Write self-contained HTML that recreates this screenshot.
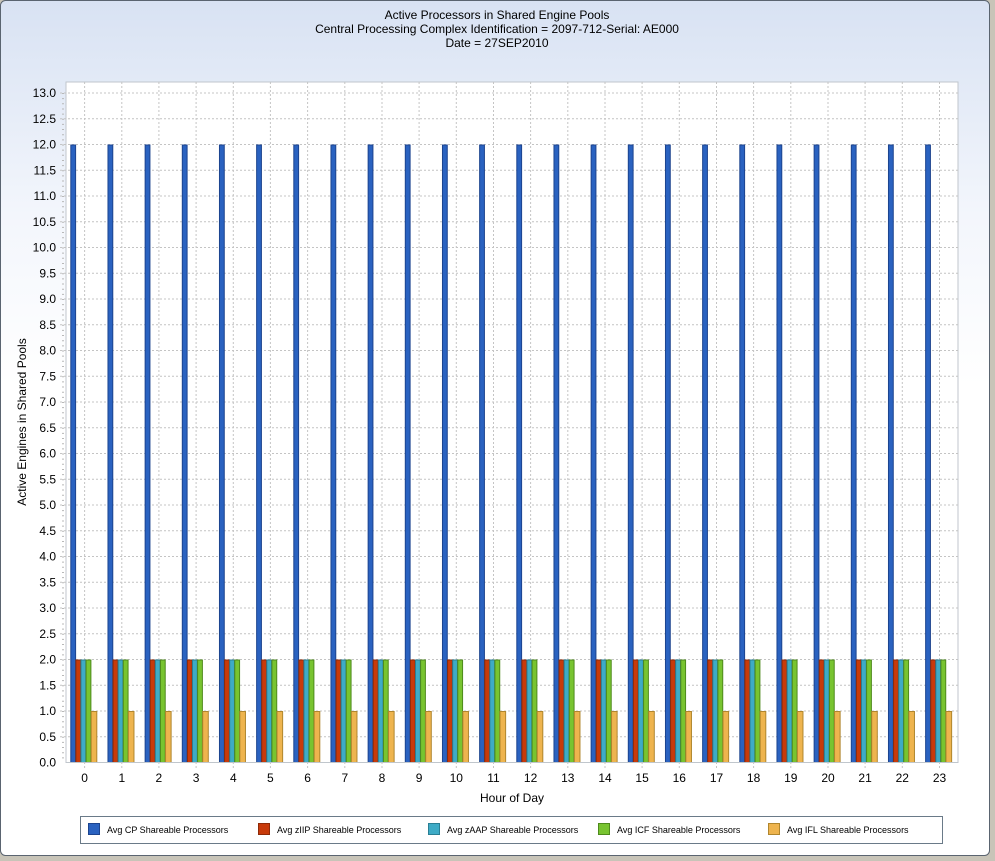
<!DOCTYPE html>
<html><head><style>body{margin:0;background:#fff}svg{display:block}text{font-family:"Liberation Sans",sans-serif;fill:#000}</style></head><body>
<svg width="995" height="861" xmlns="http://www.w3.org/2000/svg" xmlns:xlink="http://www.w3.org/1999/xlink">
<defs>
<linearGradient id="bg" x1="0" y1="0" x2="0" y2="1"><stop offset="0" stop-color="#d8e2f3"/><stop offset="0.25" stop-color="#f3f6fc"/><stop offset="0.45" stop-color="#ffffff"/></linearGradient>
<g id="bars">
<rect x="70.8" y="145" width="4.8" height="617.5" fill="#2a62c0" stroke="#1c448f" stroke-width="1"/>
<rect x="75.9" y="660" width="4.8" height="102.5" fill="#c83a0a" stroke="#8e2a08" stroke-width="1"/>
<rect x="81" y="660" width="4.8" height="102.5" fill="#3eabc6" stroke="#2a7f94" stroke-width="1"/>
<rect x="86.1" y="660" width="4.8" height="102.5" fill="#78c430" stroke="#4e8a1c" stroke-width="1"/>
<rect x="91.2" y="711.5" width="5.6" height="51" fill="#eeb44e" stroke="#b0862e" stroke-width="1"/>
</g>
</defs>
<rect x="0" y="0" width="995" height="861" fill="#c8c4b8"/>
<rect x="0.5" y="0.5" width="989" height="855" rx="5" fill="url(#bg)" stroke="#5a6470"/>
<text x="497" y="19" font-size="12" text-anchor="middle">Active Processors in Shared Engine Pools</text>
<text x="497" y="33" font-size="12" text-anchor="middle">Central Processing Complex Identification = 2097-712-Serial: AE000</text>
<text x="497" y="47" font-size="12" text-anchor="middle">Date = 27SEP2010</text>
<rect x="66" y="82" width="892" height="680.5" fill="#fff" stroke="#c0c6cc"/>
<g stroke="#c4c4c4" stroke-dasharray="2 2" stroke-width="1">
<path d="M60 736.75H958M60 711H958M60 685.25H958M60 659.5H958M60 633.75H958M60 608H958M60 582.25H958M60 556.5H958M60 530.75H958M60 505H958M60 479.25H958M60 453.5H958M60 427.75H958M60 402H958M60 376.25H958M60 350.5H958M60 324.75H958M60 299H958M60 273.25H958M60 247.5H958M60 221.75H958M60 196H958M60 170.25H958M60 144.5H958M60 118.75H958M60 93H958"/>
<path d="M84.6 82V768M121.8 82V768M158.9 82V768M196.1 82V768M233.3 82V768M270.4 82V768M307.6 82V768M344.8 82V768M382 82V768M419.1 82V768M456.3 82V768M493.5 82V768M530.6 82V768M567.8 82V768M605 82V768M642.1 82V768M679.3 82V768M716.5 82V768M753.6 82V768M790.8 82V768M828 82V768M865.1 82V768M902.3 82V768M939.5 82V768"/>
</g>
<line x1="63" y1="93" x2="63" y2="762.5" stroke="#b8b8b8" stroke-width="2" stroke-dasharray="1 4.15"/>
<g>
<use xlink:href="#bars"/>
<use xlink:href="#bars" x="37.17"/><use xlink:href="#bars" x="74.33"/><use xlink:href="#bars" x="111.5"/><use xlink:href="#bars" x="148.67"/><use xlink:href="#bars" x="185.83"/><use xlink:href="#bars" x="223"/><use xlink:href="#bars" x="260.17"/><use xlink:href="#bars" x="297.33"/><use xlink:href="#bars" x="334.5"/><use xlink:href="#bars" x="371.67"/><use xlink:href="#bars" x="408.83"/><use xlink:href="#bars" x="446"/><use xlink:href="#bars" x="483.17"/><use xlink:href="#bars" x="520.33"/><use xlink:href="#bars" x="557.5"/><use xlink:href="#bars" x="594.67"/><use xlink:href="#bars" x="631.83"/><use xlink:href="#bars" x="669"/><use xlink:href="#bars" x="706.17"/><use xlink:href="#bars" x="743.33"/><use xlink:href="#bars" x="780.5"/><use xlink:href="#bars" x="817.67"/><use xlink:href="#bars" x="854.83"/>
</g>
<line x1="66" y1="762.5" x2="958" y2="762.5" stroke="#c0c6cc"/>
<g font-size="12" text-anchor="end">
<text x="56" y="766.5">0.0</text><text x="56" y="740.75">0.5</text><text x="56" y="715">1.0</text><text x="56" y="689.25">1.5</text><text x="56" y="663.5">2.0</text><text x="56" y="637.75">2.5</text><text x="56" y="612">3.0</text><text x="56" y="586.25">3.5</text><text x="56" y="560.5">4.0</text><text x="56" y="534.75">4.5</text><text x="56" y="509">5.0</text><text x="56" y="483.25">5.5</text><text x="56" y="457.5">6.0</text><text x="56" y="431.75">6.5</text><text x="56" y="406">7.0</text><text x="56" y="380.25">7.5</text><text x="56" y="354.5">8.0</text><text x="56" y="328.75">8.5</text><text x="56" y="303">9.0</text><text x="56" y="277.25">9.5</text><text x="56" y="251.5">10.0</text><text x="56" y="225.75">10.5</text><text x="56" y="200">11.0</text><text x="56" y="174.25">11.5</text><text x="56" y="148.5">12.0</text><text x="56" y="122.75">12.5</text><text x="56" y="97">13.0</text>
</g>
<g font-size="12" text-anchor="middle">
<text x="84.6" y="782">0</text><text x="121.8" y="782">1</text><text x="158.9" y="782">2</text><text x="196.1" y="782">3</text><text x="233.3" y="782">4</text><text x="270.4" y="782">5</text><text x="307.6" y="782">6</text><text x="344.8" y="782">7</text><text x="382" y="782">8</text><text x="419.1" y="782">9</text><text x="456.3" y="782">10</text><text x="493.5" y="782">11</text><text x="530.6" y="782">12</text><text x="567.8" y="782">13</text><text x="605" y="782">14</text><text x="642.1" y="782">15</text><text x="679.3" y="782">16</text><text x="716.5" y="782">17</text><text x="753.6" y="782">18</text><text x="790.8" y="782">19</text><text x="828" y="782">20</text><text x="865.1" y="782">21</text><text x="902.3" y="782">22</text><text x="939.5" y="782">23</text>
<text x="512" y="802">Hour of Day</text>
<text transform="translate(26,422) rotate(-90)">Active Engines in Shared Pools</text>
</g>
<rect x="80.5" y="816.5" width="862" height="27" fill="#fff" stroke="#6a7a88"/>
<g font-size="9">
<rect x="88.5" y="823.5" width="11" height="11" fill="#2a62c0" stroke="#1c448f"/><text x="107" y="833">Avg CP Shareable Processors</text>
<rect x="258.5" y="823.5" width="11" height="11" fill="#c83a0a" stroke="#8e2a08"/><text x="277" y="833">Avg zIIP Shareable Processors</text>
<rect x="428.5" y="823.5" width="11" height="11" fill="#3eabc6" stroke="#2a7f94"/><text x="447" y="833">Avg zAAP Shareable Processors</text>
<rect x="598.5" y="823.5" width="11" height="11" fill="#78c430" stroke="#4e8a1c"/><text x="617" y="833">Avg ICF Shareable Processors</text>
<rect x="768.5" y="823.5" width="11" height="11" fill="#eeb44e" stroke="#b0862e"/><text x="787" y="833">Avg IFL Shareable Processors</text>
</g>
</svg>
</body></html>
